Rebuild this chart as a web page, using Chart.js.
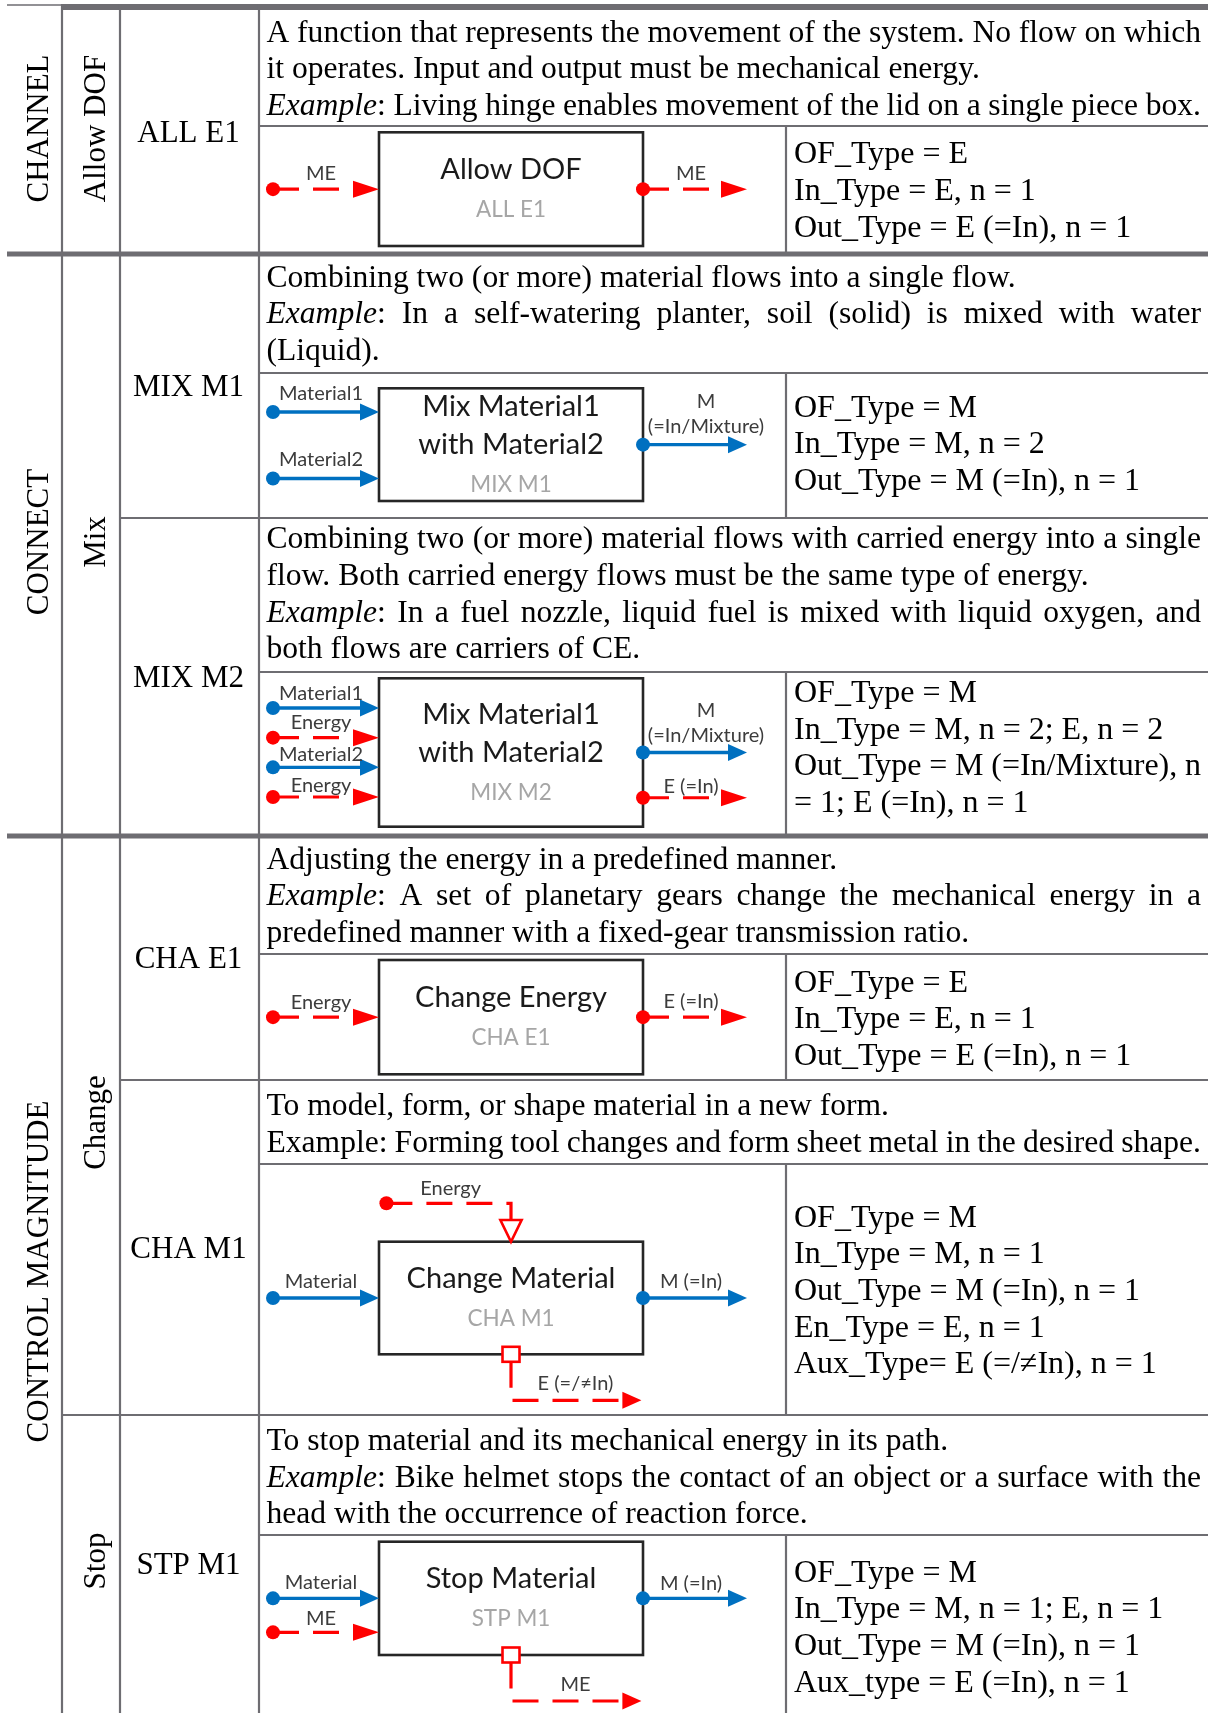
<!DOCTYPE html>
<html>
<head>
<meta charset="utf-8">
<script src="https://cdn.jsdelivr.net/npm/chart.js@4.4.1/dist/chart.umd.min.js"></script>
<style>
  html, body { margin: 0; padding: 0; background: #fff; }
  canvas { display: block; }
</style>
</head>
<body>
<canvas id="table" width="1208" height="1713"></canvas>
<script>
// ---- table content ----
const groups = ['CHANNEL', 'CONNECT', 'CONTROL MAGNITUDE'];
const groupRows = [[0, 0], [1, 2], [3, 5]];
const subgroups = ['Allow DOF', 'Mix', 'Change', 'Stop'];
const subgroupRows = [[0, 0], [1, 2], [3, 4], [5, 5]];
const codes = ['ALL E1', 'MIX M1', 'MIX M2', 'CHA E1', 'CHA M1', 'STP M1'];
const boxTitles = [
  ['Allow DOF'],
  ['Mix Material1', 'with Material2'],
  ['Mix Material1', 'with Material2'],
  ['Change Energy'],
  ['Change Material'],
  ['Stop Material'],
];

// paragraphs of lines; *text* is italic, every line but the last of a paragraph is justified
const descriptions = [
  [['A function that represents the movement of the system. No flow on which', 'it operates. Input and output must be mechanical energy.'],
   ['*Example*: Living hinge enables movement of the lid on a single piece box.']],
  [['Combining two (or more) material flows into a single flow.'],
   ['*Example*: In a self-watering planter, soil (solid) is mixed with water', '(Liquid).']],
  [['Combining two (or more) material flows with carried energy into a single', 'flow. Both carried energy flows must be the same type of energy.'],
   ['*Example*: In a fuel nozzle, liquid fuel is mixed with liquid oxygen, and', 'both flows are carriers of CE.']],
  [['Adjusting the energy in a predefined manner.'],
   ['*Example*: A set of planetary gears change the mechanical energy in a', 'predefined manner with a fixed-gear transmission ratio.']],
  [['To model, form, or shape material in a new form.'],
   ['Example: Forming tool changes and form sheet metal in the desired shape.']],
  [['To stop material and its mechanical energy in its path.'],
   ['*Example*: Bike helmet stops the contact of an object or a surface with the', 'head with the occurrence of reaction force.']],
];

const typeLines = [
  [['OF_Type = E'], ['In_Type = E, n = 1'], ['Out_Type = E (=In), n = 1']],
  [['OF_Type = M'], ['In_Type = M, n = 2'], ['Out_Type = M (=In), n = 1']],
  [['OF_Type = M'], ['In_Type = M, n = 2; E, n = 2'], ['Out_Type = M (=In/Mixture), n', '= 1; E (=In), n = 1']],
  [['OF_Type = E'], ['In_Type = E, n = 1'], ['Out_Type = E (=In), n = 1']],
  [['OF_Type = M'], ['In_Type = M, n = 1'], ['Out_Type = M (=In), n = 1'], ['En_Type = E, n = 1'], ['Aux_Type= E (=/\u2260In), n = 1']],
  [['OF_Type = M'], ['In_Type = M, n = 1; E, n = 1'], ['Out_Type = M (=In), n = 1'], ['Aux_type = E (=In), n = 1']],
];

// flows: [label, kind]  kind M = material (blue, solid), E = energy (red, dashed)
const inFlows = [
  [['ME', 'E']],
  [['Material1', 'M'], ['Material2', 'M']],
  [['Material1', 'M'], ['Energy', 'E'], ['Material2', 'M'], ['Energy', 'E']],
  [['Energy', 'E']],
  [['Material', 'M']],
  [['Material', 'M'], ['ME', 'E']],
];
const outFlows = [
  [['ME', 'E']],
  [['M\n(=In/Mixture)', 'M']],
  [['M\n(=In/Mixture)', 'M'], ['E (=In)', 'E']],
  [['E (=In)', 'E']],
  [['M (=In)', 'M']],
  [['M (=In)', 'M']],
];
const enFlows = [null, null, null, null, 'Energy', null];
const auxFlows = [null, null, null, null, 'E (=/\u2260In)', 'ME'];

// ---- layout ----
const colX = [7, 62, 120, 259, 786, 1208];
const rowSpan = [[9, 254], [254, 518], [518, 836], [836, 1080], [1080, 1415], [1415, 1713]];
const splitY = [126, 373, 672, 954, 1164, 1535];
const descBase = [41.7, 286.7, 548.3, 868.5, 1115, 1450];
const typeBase = [163.3, 416.7, 702, 991.7, 1226.7, 1581.7];
const boxX = [379, 643];
const boxTop = [132.3, 388.3, 678.3, 960, 1241.7, 1541.7];
const boxBottom = [246, 501, 826.7, 1074.3, 1354.3, 1655];
const inPos = [[0.5], [0.21, 0.8], [0.2, 0.4, 0.6, 0.8], [0.5], [0.5], [0.5, 0.8]];
const outPos = [[0.5], [0.5], [0.5, 0.805], [0.5], [0.5], [0.5]];
const inLift = [[9], [12, 12], [8, 9, 6, 5], [8], [10], [9, 7]];
const outLift = [[9], [12], [11, 4.5], [9], [10], [8]];

const SERIF = "'Liberation Serif', 'Times New Roman', serif";
const SANS = "Lato, 'Open Sans', sans-serif";
const GRID = '#6e6d72';
const BLUE = '#0070c0';
const RED = '#ff0000';
const LINE_H = 36.6;

const tablePlugin = {
  id: 'functionTable',
  afterDraw(chart) {
    const ctx = chart.ctx;
    const X = v => chart.scales.x.getPixelForValue(v);
    const Y = v => chart.scales.y.getPixelForValue(v);

    const hLine = (x1, x2, y, w) => {
      ctx.strokeStyle = GRID; ctx.lineWidth = w; ctx.setLineDash([]);
      ctx.beginPath(); ctx.moveTo(X(x1), Y(y)); ctx.lineTo(X(x2), Y(y)); ctx.stroke();
    };
    const vLine = (x, y1, y2, w) => {
      ctx.strokeStyle = GRID; ctx.lineWidth = w; ctx.setLineDash([]);
      ctx.beginPath(); ctx.moveTo(X(x), Y(y1)); ctx.lineTo(X(x), Y(y2)); ctx.stroke();
    };

    // grid
    hLine(colX[0], colX[1], 5, 1.7);
    hLine(colX[1], colX[5], 7, 6);
    groupRows.slice(1).forEach(g => hLine(colX[0], colX[5], rowSpan[g[0]][0], 5));
    subgroupRows.slice(1).forEach(s => {
      if (!groupRows.some(g => g[0] === s[0])) hLine(colX[1], colX[5], rowSpan[s[0]][0], 2.2);
    });
    codes.forEach((c, i) => {
      if (i === 0) return;
      const top = rowSpan[i][0];
      const isGroup = groupRows.some(g => g[0] === i);
      const isSub = subgroupRows.some(s => s[0] === i);
      if (!isGroup && !isSub) hLine(colX[2], colX[5], top, 2.2);
    });
    splitY.forEach(y => hLine(colX[3], colX[5], y, 2.2));
    [1, 2, 3].forEach(k => vLine(colX[k], 4, 1713, 2.2));
    splitY.forEach((y, i) => vLine(colX[4], y, rowSpan[i][1], 2.2));

    // rotated labels
    ctx.fillStyle = '#000';
    ctx.font = `31px ${SERIF}`;
    ctx.textAlign = 'center';
    ctx.textBaseline = 'alphabetic';
    const vText = (t, x, cy) => {
      ctx.save(); ctx.translate(X(x), Y(cy)); ctx.rotate(-Math.PI / 2);
      ctx.fillText(t, 0, 0); ctx.restore();
    };
    groups.forEach((g, i) => {
      const r = groupRows[i];
      vText(g, 48, (rowSpan[r[0]][0] + rowSpan[r[1]][1]) / 2 - 3);
    });
    subgroups.forEach((s, i) => {
      const r = subgroupRows[i];
      vText(s, 104.5, (rowSpan[r[0]][0] + rowSpan[r[1]][1]) / 2 - 3);
    });
    codes.forEach((c, i) => {
      ctx.fillText(c, X((colX[2] + colX[3]) / 2 - 1), Y((rowSpan[i][0] + rowSpan[i][1]) / 2 + 10));
    });

    // rich text (italic marked by *), optional justification; overlong lines are squeezed
    const drawLine = (line, x, y, right, justify, size) => {
      const words = line.split(' ');
      let italic = false;
      const tokens = words.map(w => {
        const parts = [];
        w.split('*').forEach((p, k) => {
          if (k > 0) italic = !italic;
          if (p) parts.push({ t: p, it: italic });
        });
        let width = 0;
        parts.forEach(p => {
          ctx.font = `${p.it ? 'italic ' : ''}${size}px ${SERIF}`;
          p.w = ctx.measureText(p.t).width; width += p.w;
        });
        return { parts, width };
      });
      ctx.font = `${size}px ${SERIF}`;
      const space = ctx.measureText(' ').width;
      const total = tokens.reduce((a, t) => a + t.width, 0);
      const avail = X(right) - X(x);
      const natural = total + space * (tokens.length - 1);
      const fit = justify || natural > avail;
      const gap = fit && tokens.length > 1 ? (avail - total) / (tokens.length - 1) : space;
      let px = X(x);
      ctx.textAlign = 'left';
      tokens.forEach(t => {
        let qx = px;
        t.parts.forEach(p => {
          ctx.font = `${p.it ? 'italic ' : ''}${size}px ${SERIF}`;
          ctx.fillText(p.t, qx, Y(y)); qx += p.w;
        });
        px += t.width + gap;
      });
    };
    const drawParagraphs = (paras, x, y0, right, size) => {
      let y = y0;
      paras.forEach(p => p.forEach((line, k) => {
        drawLine(line, x, y, right, k < p.length - 1, size);
        y += LINE_H;
      }));
    };
    ctx.fillStyle = '#000';
    descriptions.forEach((d, i) => drawParagraphs(d, 266.5, descBase[i], 1201, 31.6));
    typeLines.forEach((t, i) => drawParagraphs(t, 794, typeBase[i], 1201, 32));

    // diagram primitives
    const head = (tx, ty, len, half, color) => {
      ctx.fillStyle = color; ctx.beginPath();
      ctx.moveTo(X(tx), Y(ty)); ctx.lineTo(X(tx - len), Y(ty - half)); ctx.lineTo(X(tx - len), Y(ty + half));
      ctx.closePath(); ctx.fill();
    };
    const dot = (x, y, color) => {
      ctx.fillStyle = color; ctx.beginPath(); ctx.arc(X(x), Y(y), 7, 0, Math.PI * 2); ctx.fill();
    };
    const path = (pts, kind) => {
      ctx.strokeStyle = kind === 'M' ? BLUE : RED;
      ctx.lineWidth = kind === 'M' ? 3.4 : 3.2;
      ctx.setLineDash(kind === 'M' ? [] : [26, 14]);
      ctx.beginPath();
      pts.forEach((p, k) => (k ? ctx.lineTo(X(p[0]), Y(p[1])) : ctx.moveTo(X(p[0]), Y(p[1]))));
      ctx.stroke(); ctx.setLineDash([]);
    };
    const flow = (x1, x2, y, kind) => {
      const len = kind === 'M' ? 19 : 26;
      path([[x1, y], [x2 - len + 1, y]], kind);
      head(x2, y, len, 8.5, kind === 'M' ? BLUE : RED);
      dot(x1, y, kind === 'M' ? BLUE : RED);
    };
    const label = (t, cx, baseY, size) => {
      ctx.fillStyle = '#3c3c3c'; ctx.font = `${size}px ${SANS}`; ctx.textAlign = 'center';
      const lines = t.split('\n');
      lines.forEach((l, k) => ctx.fillText(l, X(cx), Y(baseY - (lines.length - 1 - k) * 25)));
    };

    codes.forEach((c, i) => {
      const top = boxTop[i], bot = boxBottom[i], h = bot - top;
      // box
      ctx.fillStyle = '#fff'; ctx.strokeStyle = '#262626'; ctx.lineWidth = 2.6;
      ctx.fillRect(X(boxX[0]), Y(top), X(boxX[1]) - X(boxX[0]), Y(bot) - Y(top));
      ctx.strokeRect(X(boxX[0]), Y(top), X(boxX[1]) - X(boxX[0]), Y(bot) - Y(top));
      const cx = (boxX[0] + boxX[1]) / 2;
      const n = boxTitles[i].length + 1;
      const mid = (top + bot) / 2 + 9;
      const first = mid - (n - 1) * 38 / 2;
      ctx.textAlign = 'center';
      ctx.fillStyle = '#1a1a1a'; ctx.font = `29px ${SANS}`;
      boxTitles[i].forEach((t, k) => ctx.fillText(t, X(cx), Y(first + k * 38)));
      ctx.fillStyle = '#a6a6a6'; ctx.font = `22.5px ${SANS}`;
      ctx.fillText(c, X(cx), Y(first + (n - 1) * 38));

      inFlows[i].forEach((f, k) => {
        const y = top + inPos[i][k] * h;
        flow(273, boxX[0], y, f[1]);
        label(f[0], 321, y - inLift[i][k], 20);
      });
      outFlows[i].forEach((f, k) => {
        const y = top + outPos[i][k] * h;
        flow(boxX[1], 747, y, f[1]);
        label(f[0], f[0].includes('\n') ? 706 : 691, y - outLift[i][k], 20);
      });
      if (enFlows[i]) {
        const y = top - 38.4;
        path([[386.4, y], [cx, y], [cx, top - 21.7]], 'E');
        dot(386.4, y, RED);
        ctx.strokeStyle = RED; ctx.lineWidth = 2.6; ctx.fillStyle = '#fff';
        ctx.beginPath();
        ctx.moveTo(X(cx - 10.6), Y(top - 21.7)); ctx.lineTo(X(cx + 10.6), Y(top - 21.7)); ctx.lineTo(X(cx), Y(top));
        ctx.closePath(); ctx.fill(); ctx.stroke();
        label(enFlows[i], 450.7, y - 8, 20);
      }
      if (auxFlows[i]) {
        const y = bot + 46;
        path([[cx, bot + 7.5], [cx, y], [641.4 - 18, y]], 'E');
        head(641.4, y, 19, 8.5, RED);
        ctx.strokeStyle = RED; ctx.lineWidth = 2.6; ctx.fillStyle = '#fff';
        ctx.fillRect(X(cx - 8.5), Y(bot - 7.5), 17, 15);
        ctx.strokeRect(X(cx - 8.5), Y(bot - 7.5), 17, 15);
        label(auxFlows[i], 575.5, y - 10, 20);
      }
    });
  }
};

new Chart(document.getElementById('table'), {
  type: 'scatter',
  data: { datasets: [] },
  options: {
    responsive: false,
    animation: false,
    events: [],
    layout: { padding: 0 },
    plugins: { legend: { display: false }, tooltip: { enabled: false } },
    scales: {
      x: { type: 'linear', min: 0, max: 1208, display: false },
      y: { type: 'linear', min: 0, max: 1713, reverse: true, display: false },
    },
  },
  plugins: [tablePlugin],
});
</script>
</body>
</html>
